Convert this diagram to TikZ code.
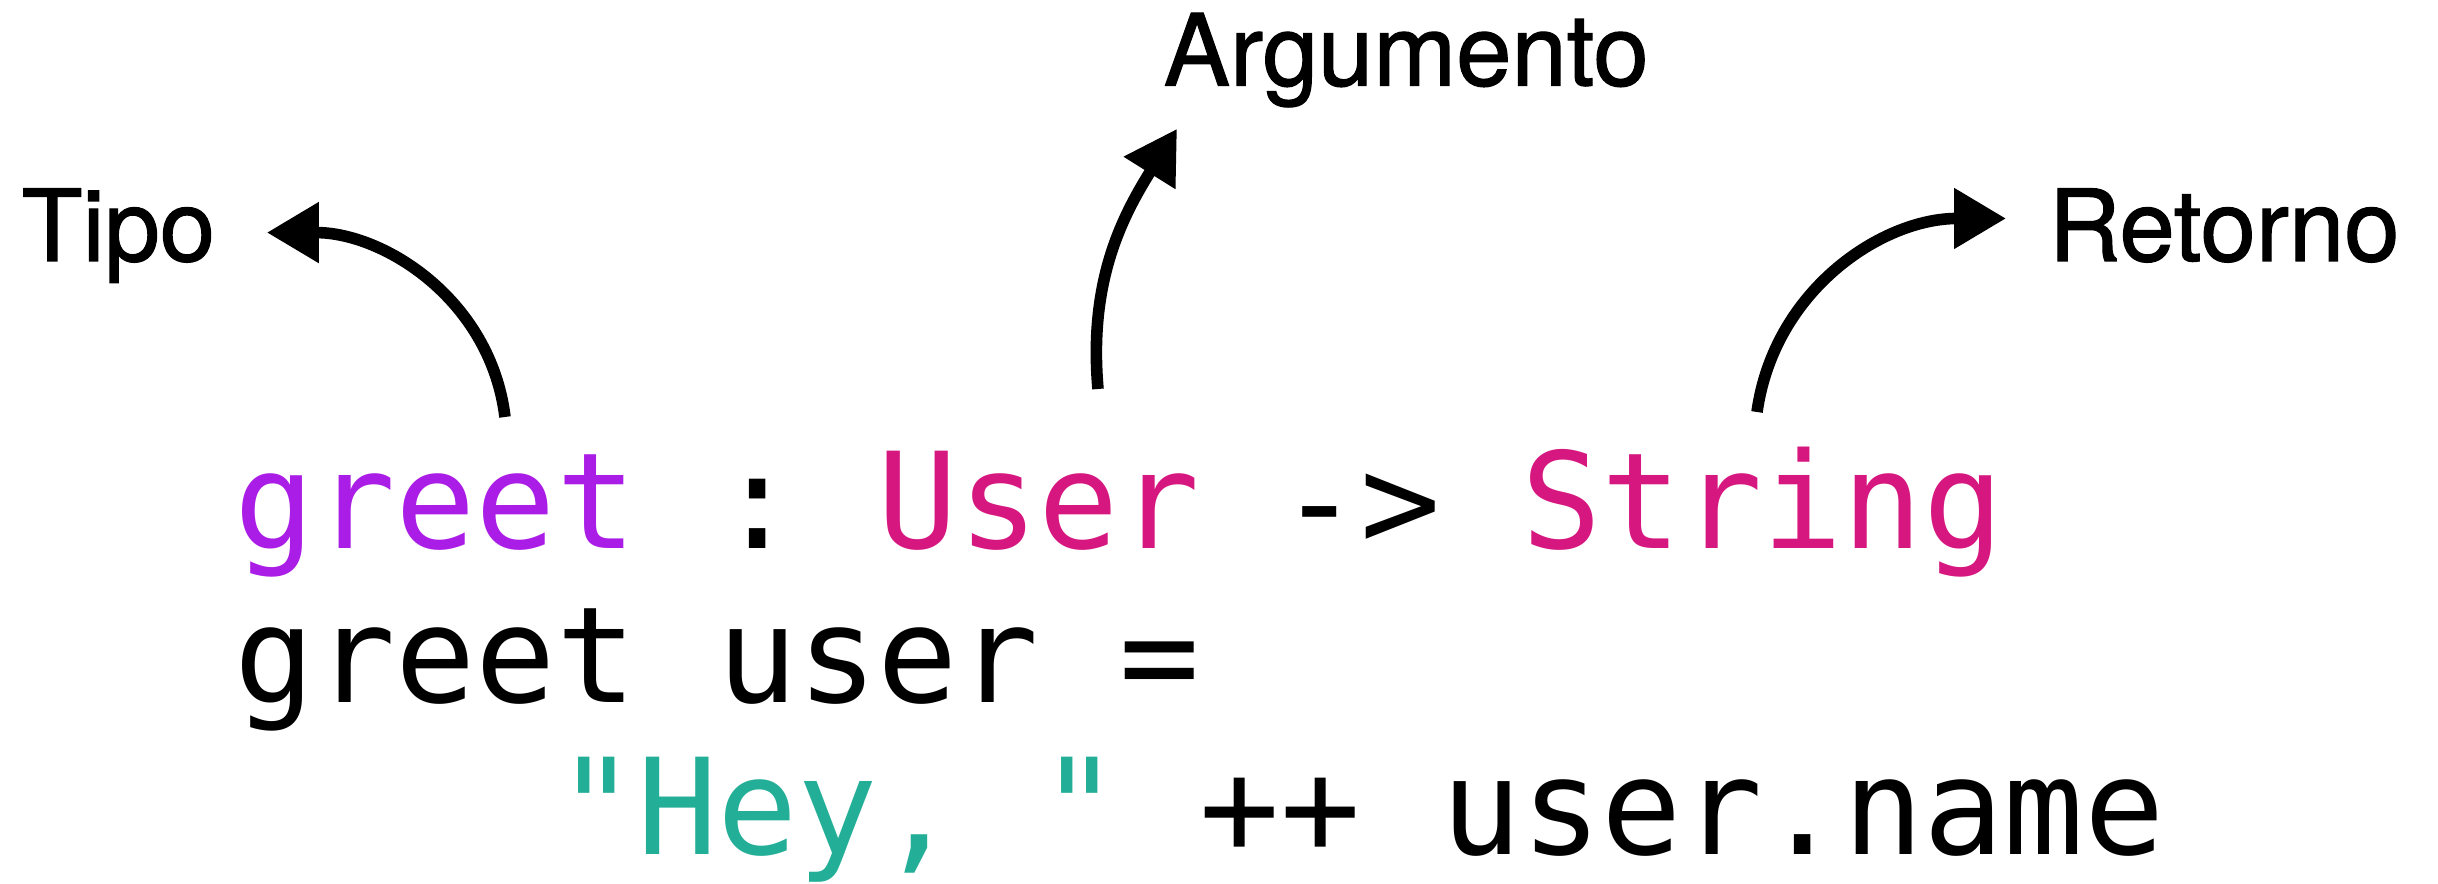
\documentclass[tikz,border=0pt]{standalone}
\usepackage{fontspec}
\setmainfont{TeX Gyre Heros}[FakeBold=1.2]
\setmonofont{DejaVu Sans Mono}
\usetikzlibrary{arrows.meta}
\definecolor{fnpurple}{HTML}{AA1DE6}
\definecolor{typepink}{HTML}{D6177F}
\definecolor{strteal}{HTML}{23AE97}

\begin{document}
\begin{tikzpicture}[
    lbl/.style={inner sep=0, anchor=base west, font=\fontsize{28.3}{34}\selectfont},
    code/.style={inner sep=0, anchor=base west, font=\ttfamily\fontsize{38}{46}\selectfont\frenchspacing},
    arr/.style={-{Triangle[length=5.2mm,width=5.8mm]}, line width=3.3pt}]
\useasboundingbox (0,0) rectangle (24.38,8.84);
\node[lbl] (tipo) at (0.21,6.23) {Tipo};
\node[lbl] (arg) at (11.63,7.985) {Argumento};
\node[lbl] (ret) at (20.48,6.23) {Retorno};
\node[code] (sig) at (2.34,3.35) {\textcolor{fnpurple}{greet} : \textcolor{typepink}{User} -> \textcolor{typepink}{String}};
\node[code] (def) at (2.34,1.81) {greet user =};
\node[code] (body) at (5.56,0.29) {\textcolor{strteal}{"Hey, "} ++ user.name};
\coordinate (t1) at (5.05,4.67);
\coordinate (t2) at (10.98,4.95);
\coordinate (t3) at (17.57,4.72);
\draw[arr] (t1) to[out=97,in=0] ([xshift=5.1mm,yshift=0.3mm]tipo.east);
\draw[arr] (t2) to[out=95,in=238] ([xshift=1.4mm,yshift=-2.1mm]arg.south west);
\draw[arr] (t3) to[out=82,in=180] ([xshift=-4.2mm,yshift=0.7mm]ret.west);
\end{tikzpicture}
\end{document}
